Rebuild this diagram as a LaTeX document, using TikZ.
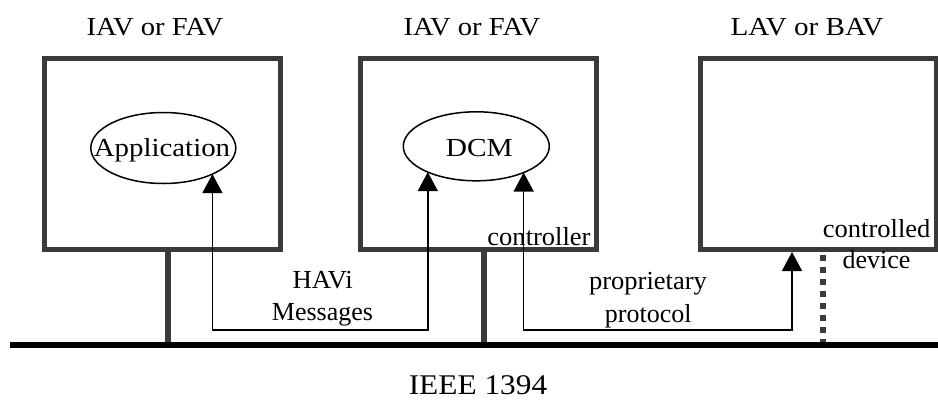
\documentclass[tikz,border=0pt]{standalone}
\usepackage{fontspec}
\setmainfont{Liberation Serif}
\usetikzlibrary{arrows.meta,shapes.geometric,calc}
\definecolor{boxgray}{HTML}{3A3A3A}

\begin{document}
\begin{tikzpicture}[x=1pt,y=-1pt,
  device/.style={draw=boxgray, line width=5pt, minimum width=236pt,
    minimum height=191pt, inner sep=0pt, outer sep=0pt},
  module/.style={draw, ellipse, line width=1.5pt, inner sep=0pt, outer sep=0pt},
  txt/.style={font=\fontsize{26}{31}\selectfont, inner sep=0pt, anchor=base},
  wide/.style={font=\fontsize{26}{31}\selectfont\addfontfeature{FakeStretch=#1}},
  msg/.style={line width=1.5pt,
    {Triangle[width=20pt,length=19pt]}-{Triangle[width=20pt,length=19pt]}},
  stub/.style={draw=boxgray, line width=6.5pt},
  wireless/.style={draw=boxgray, line width=6pt, dash pattern=on 6pt off 6pt},
  bus/.style={line width=6.5pt}
]
\useasboundingbox (0,0) rectangle (938,400);

% IEEE 1394 bus and the taps into it
\coordinate (busL) at (10,345);
\coordinate (busR) at (938,345);
\coordinate (low) at (0,330);

% devices
\node[device] (box1) at (162,154) {};
\node[device] (box2) at (478,154) {};
\node[device] (box3) at (818,154) {};

\coordinate (tap1) at ($(box1.south)+(6,0)$);
\coordinate (tap2) at ($(box2.south)+(6,0)$);
\coordinate (tap3) at ($(box3.south)+(5,5)$);
\draw[stub] (tap1) -- (tap1 |- busL);
\draw[stub] (tap2) -- (tap2 |- busL);
\draw[wireless] (tap3 |- busL) -- (tap3);
\draw[bus] (busL) -- (busR);

% device titles
\node[txt, wide=1.10] (h1) at (155,35) {IAV or FAV};
\node[txt, wide=1.10] (h2) at (472,35) {IAV or FAV};
\node[txt, wide=1.12] (h3) at (807,35) {LAV or BAV};

% software elements
\node[module, minimum width=145pt, minimum height=71pt] (app) at (163.3,148) {};
\node[module, minimum width=146pt, minimum height=69pt] (dcm) at (476.3,146.3) {};
\node[txt, wide=1.11] (apptxt) at (162,156.7) {Application};
\node[txt, wide=1.13] (dcmtxt) at (479.3,156.7) {DCM};

% message paths
\coordinate (devin) at ($(box3.south)+(-26,2.5)$);
\draw[msg] (app.-28.7) -- (app.-28.7 |- low) -| (dcm.-152.2);
\draw[msg] (dcm.-29) -- (dcm.-29 |- low) -| (devin);

% labels
\node[txt, wide=1.03] (havi) at (322.7,288) {HAVi};
\node[txt] (msgs) at (322.5,320) {Messages};
\node[txt, wide=1.02] (ctrl) at (539,245) {controller};
\node[txt, wide=1.02] (prop) at (648,289) {proprietary};
\node[txt] (proto) at (648.3,322) {protocol};
\node[txt, wide=1.02] (ctrld) at (876.7,237) {controlled};
\node[txt] (devtxt) at (876.5,268) {device};
\node[txt, font=\fontsize{28.5}{34}\selectfont\addfontfeature{FakeStretch=1.1}]
  (ieee) at (478,394.5) {IEEE 1394};
\end{tikzpicture}
\end{document}
